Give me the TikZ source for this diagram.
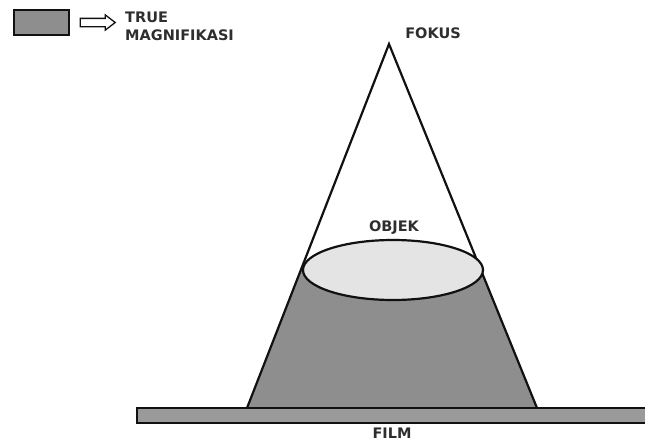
\documentclass[tikz,border=0pt]{standalone}
\usepackage{fontspec}
\setmainfont{DejaVu Sans}
\usepackage{xcolor}
\definecolor{cLine}{HTML}{111111}
\definecolor{cMag}{HTML}{8E8E8E}
\definecolor{cObj}{HTML}{E4E4E4}
\definecolor{cFilm}{HTML}{9A9A9A}
\definecolor{cText}{HTML}{2E2E2E}
\usetikzlibrary{positioning,calc,shapes.geometric,shapes.arrows}
\tikzset{
  lbl/.style={font=\fontsize{14.5}{18}\selectfont\bfseries,text=cText,inner sep=0pt},
  ray/.style={draw=cLine,line width=2.2pt},
  obj-ell/.style={ellipse,draw=cLine,line width=2.2pt,fill=cObj,
    minimum width=180,minimum height=60,inner sep=0pt},
  film-box/.style={draw=cLine,line width=2pt,fill=cFilm,
    minimum width=512,minimum height=15,inner sep=0pt},
  key-box/.style={draw=cLine,line width=2pt,fill=cMag,
    minimum width=55,minimum height=25,inner sep=0pt},
  key-arrow/.style={single arrow,draw=cLine,line width=1.3pt,fill=white,
    minimum height=35,inner sep=3.5pt,single arrow head extend=3.5pt,
    single arrow tip angle=75},
}
\begin{document}
\begin{tikzpicture}[x=1pt,y=-1pt]
  \useasboundingbox (0,0) rectangle (645,445);
  % legend
  \node[key-box] (key) at (41.5,22.5) {};
  \node[key-arrow] (keyarrow) at (95,22.5) {};
  \node[lbl,anchor=north west,align=left] (keytext) at (125,12) {TRUE\\MAGNIFIKASI};
  % cone from the focus to the film
  \coordinate (fokus) at (389,44);
  \coordinate (kiri) at (247,408);
  \coordinate (kanan) at (537,408);
  \fill[cMag] ($(fokus)!0.621!(kiri)$) -- (kiri) -- (kanan) -- ($(fokus)!0.621!(kanan)$) -- cycle;
  \draw[ray] (kiri) -- (fokus) -- (kanan);
  \node[obj-ell] (objek) at (393,270) {};
  \node[film-box] (film) at (393,415) {};
  % labels
  \node[lbl] (lfokus) at (433,33) {FOKUS};
  \node[lbl] (lobjek) at (394,228) {OBJEK};
  \node[lbl] (lfilm) at (392,433) {FILM};
\end{tikzpicture}
\end{document}
